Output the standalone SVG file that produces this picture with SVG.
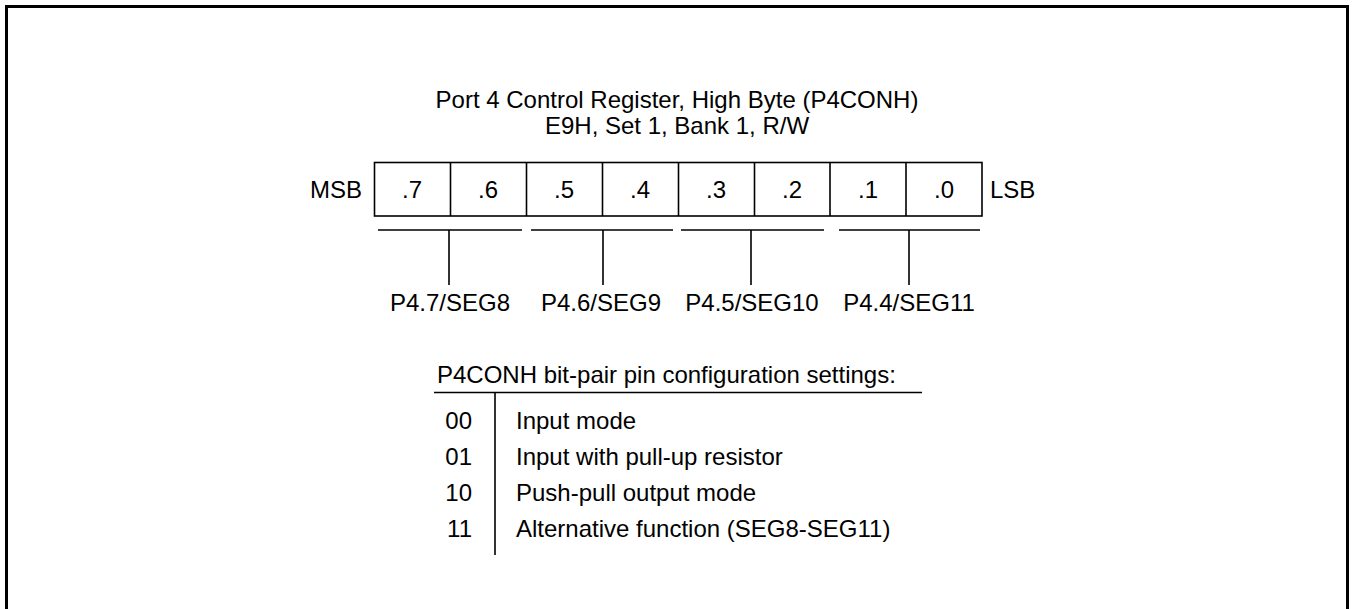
<svg xmlns="http://www.w3.org/2000/svg" width="1355" height="609" viewBox="0 0 1355 609">
<style>
text{font-family:"Liberation Sans",Arial,sans-serif;font-size:24px;fill:#000}
.m{text-anchor:middle}
.e{text-anchor:end}
.ln{stroke:#000;stroke-width:1.6;fill:none}
</style>
<rect x="0" y="0" width="1355" height="609" fill="#fff"/>
<rect x="6.5" y="6.5" width="1341" height="700" fill="none" stroke="#000" stroke-width="3"/>
<g id="title">
<text class="m" x="677" y="108">Port 4 Control Register, High Byte (P4CONH)</text>
<text class="m" x="677" y="134">E9H, Set 1, Bank 1, R/W</text>
</g>
<g id="register">
<rect class="ln" x="374.5" y="162.5" width="607.5" height="53.5"/>
<path class="ln" d="M450.5 162.5V216M526.5 162.5V216M602.5 162.5V216M678.5 162.5V216M754.5 162.5V216M830 162.5V216M906 162.5V216"/>
<text class="e" x="362" y="198">MSB</text>
<text x="990" y="198">LSB</text>
<text class="m" x="412" y="198">.7</text>
<text class="m" x="488" y="198">.6</text>
<text class="m" x="564" y="198">.5</text>
<text class="m" x="640" y="198">.4</text>
<text class="m" x="716" y="198">.3</text>
<text class="m" x="792" y="198">.2</text>
<text class="m" x="868" y="198">.1</text>
<text class="m" x="944" y="198">.0</text>
</g>
<g id="connectors">
<path class="ln" d="M378 230H522M531 230H673M681 230H824M839 230H980"/>
<path class="ln" d="M449 230V285M603 230V285M751 230V285M909 230V285"/>
</g>
<g id="pins">
<text class="m" x="450" y="311">P4.7/SEG8</text>
<text class="m" x="601" y="311">P4.6/SEG9</text>
<text class="m" x="752" y="311">P4.5/SEG10</text>
<text class="m" x="909" y="311">P4.4/SEG11</text>
</g>
<g id="settings">
<text x="437" y="383">P4CONH bit-pair pin configuration settings:</text>
<path class="ln" d="M434 392.5H922M495 392.5V555"/>
<text class="e" x="472" y="429">00</text>
<text class="e" x="472" y="465">01</text>
<text class="e" x="472" y="501">10</text>
<text class="e" x="472" y="537">11</text>
<text x="516" y="429">Input mode</text>
<text x="516" y="465">Input with pull-up resistor</text>
<text x="516" y="501">Push-pull output mode</text>
<text x="516" y="537">Alternative function (SEG8-SEG11)</text>
</g>
</svg>
